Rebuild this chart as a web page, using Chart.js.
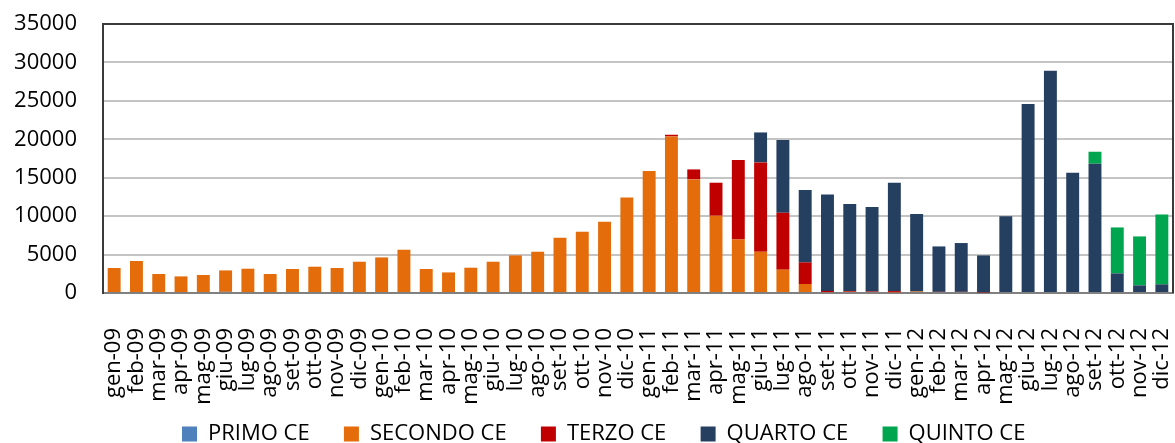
<!DOCTYPE html>
<html>
<head>
<meta charset="utf-8">
<script src="https://cdn.jsdelivr.net/npm/chart.js@4.4.0/dist/chart.umd.min.js"></script>
<style>
  body { margin: 0; background: #fff; }
  #wrap { width: 1175px; height: 443px; }
</style>
</head>
<body>
<div id="wrap"><canvas id="ceChart"></canvas></div>
<script>
// mesi (gen-09 ... dic-12)
const mesi = [
  'gen-09', 'feb-09', 'mar-09', 'apr-09', 'mag-09', 'giu-09', 'lug-09', 'ago-09', 'set-09', 'ott-09', 'nov-09', 'dic-09',
  'gen-10', 'feb-10', 'mar-10', 'apr-10', 'mag-10', 'giu-10', 'lug-10', 'ago-10', 'set-10', 'ott-10', 'nov-10', 'dic-10',
  'gen-11', 'feb-11', 'mar-11', 'apr-11', 'mag-11', 'giu-11', 'lug-11', 'ago-11', 'set-11', 'ott-11', 'nov-11', 'dic-11',
  'gen-12', 'feb-12', 'mar-12', 'apr-12', 'mag-12', 'giu-12', 'lug-12', 'ago-12', 'set-12', 'ott-12', 'nov-12', 'dic-12'
];

// valori
const primoCE = [
  0, 0, 0, 80, 0, 150, 0, 0, 0, 0, 0, 0,
  0, 0, 0, 0, 0, 0, 0, 0, 0, 0, 0, 0,
  0, 0, 0, 0, 0, 0, 0, 0, 0, 0, 0, 0,
  0, 0, 0, 0, 0, 0, 0, 0, 0, 0, 0, 0
];
const secondoCE = [
  3250, 4160, 2470, 2080, 2340, 2790, 3160, 2470, 3120, 3420, 3250, 4070,
  4630, 5630, 3120, 2680, 3290, 4070, 4890, 5370, 7190, 7970, 9270, 12440,
  15870, 20370, 14780, 10060, 6970, 5370, 3030, 1170, 120, 150, 0, 100,
  200, 0, 0, 0, 0, 0, 0, 0, 0, 0, 0, 0
];
const terzoCE = [
  0, 0, 0, 0, 0, 0, 0, 0, 0, 0, 0, 0,
  0, 0, 0, 0, 0, 0, 0, 0, 0, 0, 0, 0,
  0, 220, 1300, 4290, 10330, 11620, 7410, 2810, 150, 100, 200, 150,
  0, 150, 150, 80, 0, 0, 0, 0, 0, 0, 0, 0
];
const quartoCE = [
  0, 0, 0, 0, 0, 0, 0, 0, 0, 0, 0, 0,
  0, 0, 0, 0, 0, 0, 0, 0, 0, 0, 0, 0,
  0, 0, 0, 0, 0, 3900, 9460, 9420, 12560, 11330, 10990, 14100,
  10080, 5910, 6350, 4810, 9970, 24590, 28920, 15650, 16820, 2550, 990, 1120
];
const quintoCE = [
  0, 0, 0, 0, 0, 0, 0, 0, 0, 0, 0, 0,
  0, 0, 0, 0, 0, 0, 0, 0, 0, 0, 0, 0,
  0, 0, 0, 0, 0, 0, 0, 0, 0, 0, 0, 0,
  0, 0, 0, 0, 0, 0, 0, 0, 1560, 5980, 6370, 9100
];

Chart.defaults.font.family = '"Open Sans", sans-serif';
Chart.defaults.font.size = 22;
Chart.defaults.color = '#000';

// cornice del grafico (lati alto / destra)
const cornice = {
  id: 'cornice',
  afterDraw(chart) {
    const a = chart.chartArea, c = chart.ctx;
    c.save();
    c.strokeStyle = '#3a3a3a';
    c.lineWidth = 2;
    c.beginPath();
    c.moveTo(a.left, a.top);
    c.lineTo(a.right, a.top);
    c.lineTo(a.right, a.bottom);
    c.stroke();
    c.restore();
  }
};

function serie(label, data, color) {
  return {
    label: label,
    data: data,
    backgroundColor: color,
    borderWidth: 0,
    categoryPercentage: 1,
    barPercentage: 0.58
  };
}

const ctx = document.getElementById('ceChart').getContext('2d');
const ceChart = new Chart(ctx, {
  type: 'bar',
  data: {
    labels: mesi,
    datasets: [
      serie('PRIMO CE', primoCE, '#4f81bd'),
      serie('SECONDO CE', secondoCE, '#e46c0a'),
      serie('TERZO CE', terzoCE, '#c00000'),
      serie('QUARTO CE', quartoCE, '#243f60'),
      serie('QUINTO CE', quintoCE, '#00a64f')
    ]
  },
  options: {
    responsive: true,
    maintainAspectRatio: false,
    animation: false,
    layout: { padding: { left: 8, right: 2, top: 24, bottom: 0 } },
    plugins: {
      tooltip: { enabled: false },
      legend: {
        position: 'bottom',
        fullSize: false,
        maxHeight: 20,
        labels: {
          boxWidth: 15,
          boxHeight: 15,
          padding: 0,
          font: { size: 22, lineHeight: 1 },
          generateLabels(chart) {
            // spazi finali: distanza tra le voci, e sull'ultima per spostare il blocco a sinistra
            const voci = Chart.defaults.plugins.legend.labels.generateLabels(chart);
            const ultimo = voci.length - 1;
            return voci.map((l, i) => Object.assign(l, { text: l.text + ' '.repeat(i < ultimo ? 6 : 12) }));
          }
        }
      }
    },
    scales: {
      x: {
        stacked: true,
        grid: { display: false },
        border: { color: '#808080', width: 2 },
        ticks: { autoSkip: false, minRotation: 90, maxRotation: 90, padding: 27 },
        afterFit(s) {
          s.height = 130;
          s.paddingLeft = 0;
          s.paddingRight = 0;
        }
      },
      y: {
        stacked: true,
        min: 0,
        max: 35000,
        ticks: { stepSize: 5000, padding: 26, callback: v => String(v) },
        border: { color: '#3a3a3a', width: 2 },
        grid: {
          drawTicks: false,
          lineWidth: 2,
          color: c => c.tick.value === 0 ? '#808080' : (c.tick.value === 35000 ? '#3a3a3a' : '#c4c4c4')
        },
        afterFit(s) {
          s.width = 95;
          s.paddingTop = 0;
          s.paddingBottom = 0;
        }
      }
    }
  },
  plugins: [cornice]
});
</script>
</body>
</html>
